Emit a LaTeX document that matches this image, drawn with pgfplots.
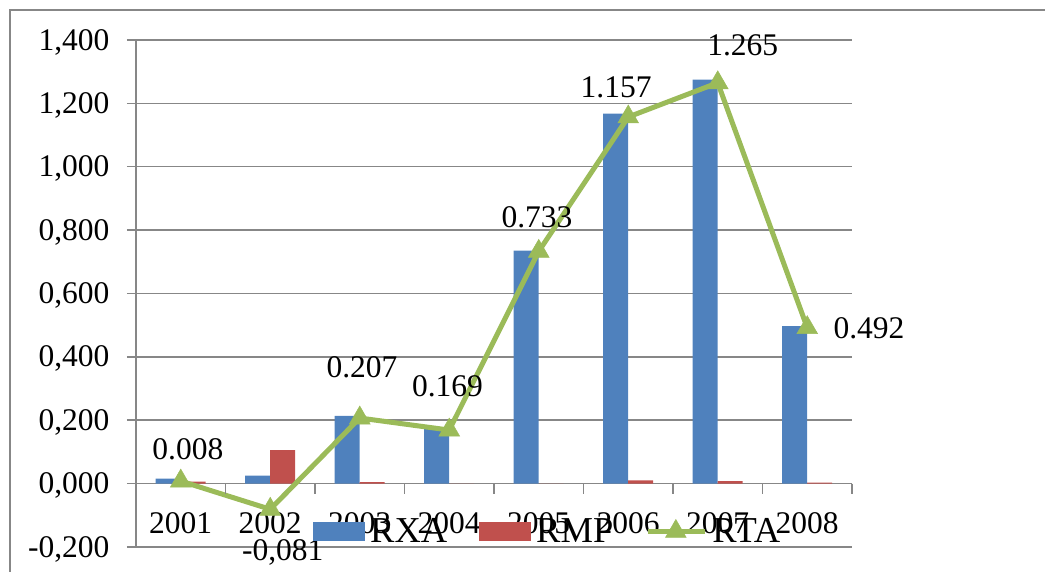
\documentclass[border=0pt]{standalone}
\usepackage{pgfplots}
\pgfplotsset{compat=1.18}
\usepackage{fontspec}
\setmainfont{Liberation Serif}
\definecolor{cB}{HTML}{4F81BD}
\definecolor{cR}{HTML}{C0504D}
\definecolor{cG}{HTML}{9BBB59}
\definecolor{gridc}{HTML}{878787}
\newcommand\lf{\fontsize{31.5}{36}\selectfont}
\begin{document}
\begin{tikzpicture}[x=1pt,y=1pt]
\useasboundingbox (0,0) rectangle (1045,571);
\clip (0,0) rectangle (1045,571);
\draw[gridc, line width=1.5pt] (10,-5) -- (10,561) -- (1050,561);
\begin{axis}[at={(136pt,24pt)}, anchor=south west, scale only axis,
  width=716pt, height=507pt,
  xmin=-0.5, xmax=7.5, ymin=-0.2, ymax=1.4, clip=false,
  axis lines*=left, separate axis lines,
  x axis line style={draw=none},
  y axis line style={gridc, line width=1.5pt, -},
  ytick={-0.2,0,0.2,0.4,0.6,0.8,1.0,1.2,1.4},
  yticklabels={{-0,200},{0,000},{0,200},{0,400},{0,600},{0,800},{1,000},{1,200},{1,400}},
  ymajorgrids, grid style={gridc, line width=1.5pt},
  ytick style={gridc, line width=1.5pt},
  tick align=outside, major tick length=9pt,
  xtick={0,...,7}, xticklabels={2001,2002,2003,2004,2005,2006,2007,2008},
  xtick style={draw=none},
  ticklabel style={font=\lf},
  xticklabel style={anchor=base, yshift=22pt},
  yticklabel style={xshift=-14pt, yshift=-2pt},
  legend columns=3,
  legend style={draw=none, fill=none, at={(axis cs:1.444,-0.151)}, anchor=west,
    font=\fontsize{36.5}{40}\selectfont, nodes={inner sep=1pt},
    /tikz/every odd column/.append style={column sep=4pt},
    /tikz/every even column/.append style={column sep=31pt}},
]
\addplot[ybar, bar width=25pt, bar shift=-12.5pt, fill=cB, draw=none,
  legend image code/.code={\fill[cB] (0pt,-9.5pt) rectangle (52pt,9.5pt);}]
  coordinates {(0,0.016) (1,0.025) (2,0.214) (3,0.175) (4,0.735) (5,1.168) (6,1.275) (7,0.497)};
\addlegendentry{RXA}
\addplot[ybar, bar width=25pt, bar shift=12.5pt, fill=cR, draw=none,
  legend image code/.code={\fill[cR] (0pt,-9.5pt) rectangle (52pt,9.5pt);}]
  coordinates {(0,0.006) (1,0.106) (2,0.005) (3,0.0) (4,0.0) (5,0.010) (6,0.008) (7,0.003)};
\addlegendentry{RMP}
\addplot[cG, line width=5pt, mark=triangle*, mark size=12pt,
  mark options={line width=0.5pt, fill=cG},
  legend image code/.code={\draw[cG, line width=5pt, mark=triangle*, mark size=12pt,
    mark options={line width=0.5pt, fill=cG}, mark repeat=2, mark phase=2]
    plot coordinates {(0pt,0pt) (28pt,0pt) (57pt,0pt)};}]
  coordinates {(0,0.008) (1,-0.081) (2,0.207) (3,0.169) (4,0.733) (5,1.157) (6,1.265) (7,0.492)};
\addlegendentry{RTA}
\pgfplotsinvokeforeach{-0.5,0.5,1.5,2.5,3.5,4.5,5.5,6.5,7.5}{
  \draw[gridc, line width=1.5pt] (axis cs:#1,0) -- ++(0pt,-10pt);
}
\node[font=\lf] at (axis cs:0.08,0.107) {0.008};
\node[font=\lf] at (axis cs:1.14,-0.218) {-0,081};
\node[font=\lf] at (axis cs:2.025,0.366) {0.207};
\node[font=\lf] at (axis cs:2.98,0.306) {0.169};
\node[font=\lf] at (axis cs:3.98,0.842) {0.733};
\node[font=\lf] at (axis cs:4.864,1.252) {1.157};
\node[font=\lf] at (axis cs:6.28,1.382) {1.265};
\node[font=\lf] at (axis cs:7.69,0.489) {0.492};
\end{axis}
\end{tikzpicture}
\end{document}
